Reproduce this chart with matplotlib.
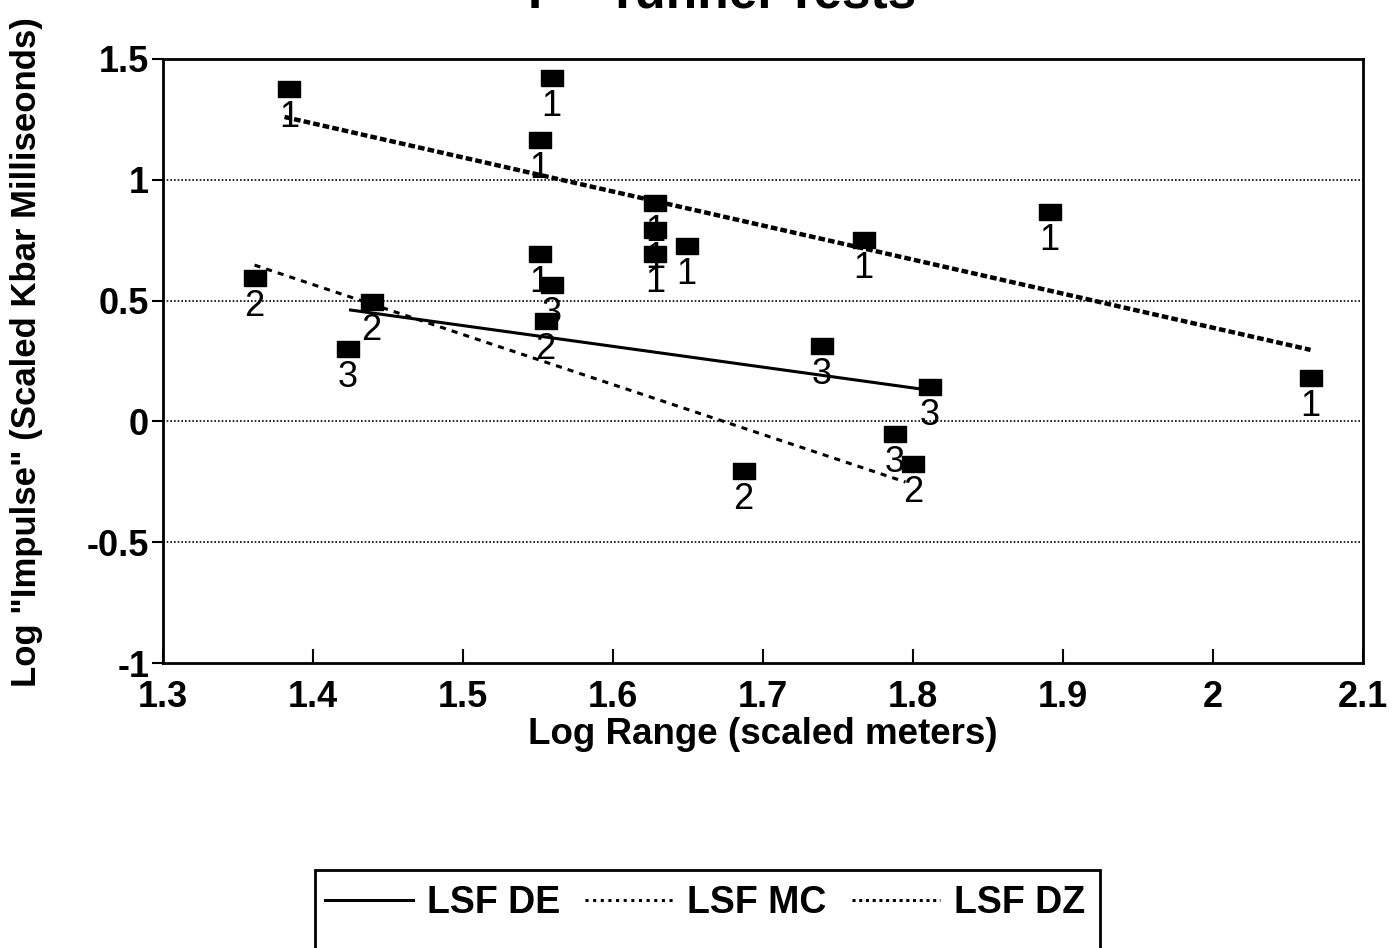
import matplotlib.pyplot as plt
from matplotlib.patches import Rectangle
from matplotlib.lines import Line2D

plt.rcParams["font.family"] = ["Liberation Sans", "DejaVu Sans"]

# measured points: log range, log impulse, group label
log_range = [1.384, 1.559, 1.551, 1.628, 1.628, 1.628, 1.649, 1.551, 1.767, 1.891, 2.065,
             1.361, 1.439, 1.555, 1.687, 1.800,
             1.423, 1.559, 1.739, 1.811, 1.788]
log_impulse = [1.376, 1.421, 1.165, 0.904, 0.792, 0.693, 0.726, 0.693, 0.751, 0.867, 0.180,
               0.594, 0.494, 0.415, -0.205, -0.176,
               0.300, 0.565, 0.312, 0.142, -0.052]
group = ["1", "1", "1", "1", "1", "1", "1", "1", "1", "1", "1",
         "2", "2", "2", "2", "2",
         "3", "3", "3", "3", "3"]

# least-squares fit lines (end points)
de_x = [1.425, 1.810]
de_y = [0.461, 0.130]
mc_x = [1.361, 1.795]
mc_y = [0.647, -0.251]
dz_x = [1.381, 2.065]
dz_y = [1.260, 0.296]

x_ticks = [1.3, 1.4, 1.5, 1.6, 1.7, 1.8, 1.9, 2.0, 2.1]
y_ticks = [-1, -0.5, 0, 0.5, 1, 1.5]

fig = plt.figure(figsize=(13.97, 9.48), dpi=100)
ax = fig.add_axes([0.1167, 0.3006, 0.859, 0.6372])

for yv in [-0.5, 0, 0.5, 1]:
    ax.axhline(yv, color="black", linestyle=(0, (1, 1.2)), linewidth=1.2, zorder=1)

ax.plot(de_x, de_y, color="black", linewidth=2.2, zorder=2)
ax.plot(mc_x, mc_y, color="black", linewidth=2.2, linestyle=(0, (2, 2)), zorder=2)
ax.plot(dz_x, dz_y, color="black", linewidth=3.2, linestyle=(0, (1.5, 0.7)), zorder=2)

rect = [(-1.2, -0.85), (1.2, -0.85), (1.2, 0.85), (-1.2, 0.85), (-1.2, -0.85)]
ax.plot(log_range, log_impulse, linestyle="none", marker=rect, markersize=16,
        color="black", zorder=3)
for xv, yv, g in zip(log_range, log_impulse, group):
    ax.annotate(g, (xv, yv), textcoords="offset points", xytext=(0, -8),
                ha="center", va="top", fontsize=26, zorder=4)

ax.set_xlim(1.3, 2.1)
ax.set_ylim(-1, 1.5)
ax.set_xticks(x_ticks)
ax.set_xticklabels([f"{v:g}" for v in x_ticks], fontweight="bold")
ax.set_yticks(y_ticks)
ax.set_yticklabels([f"{v:g}" for v in y_ticks], fontweight="bold")
ax.tick_params(axis="x", direction="in", length=10, width=1.5, labelsize=26, pad=12)
ax.tick_params(axis="y", direction="out", length=8, width=1.5, labelsize=26, pad=2)
for s in ax.spines.values():
    s.set_linewidth(2)
ax.set_xlabel("Log Range (scaled meters)", fontsize=26.5, fontweight="bold", labelpad=2)

fig.text(27 / 1397, 1 - 352 / 948, 'Log "Impulse" (Scaled Kbar Milliseonds)',
         rotation=90, ha="center", va="center", fontsize=25, fontweight="bold")
fig.text(722 / 1397, 1 - 7 / 948, "P - Tunnel Tests", ha="center", va="baseline",
         fontsize=37, fontweight="bold")

# legend box runs off the bottom edge
fig.patches.append(Rectangle((315 / 1397, -0.02), 785 / 1397, 0.02 + 78 / 948,
                             transform=fig.transFigure, fill=False,
                             edgecolor="black", linewidth=2))
handles = [
    Line2D([], [], color="black", linewidth=2.2),
    Line2D([], [], color="black", linewidth=2.2, linestyle=(0, (1, 1.5))),
    Line2D([], [], color="black", linewidth=2.2, linestyle=(0, (1, 1.2))),
]
fig.legend(handles, ["LSF DE", "LSF MC", "LSF DZ"], loc="center",
           bbox_to_anchor=(705 / 1397, 1 - 903 / 948), ncol=3, frameon=False,
           prop={"size": 27, "weight": "bold"}, handlelength=2.35,
           handletextpad=0.37, columnspacing=0.67)

fig.savefig("out.png", dpi=100)
